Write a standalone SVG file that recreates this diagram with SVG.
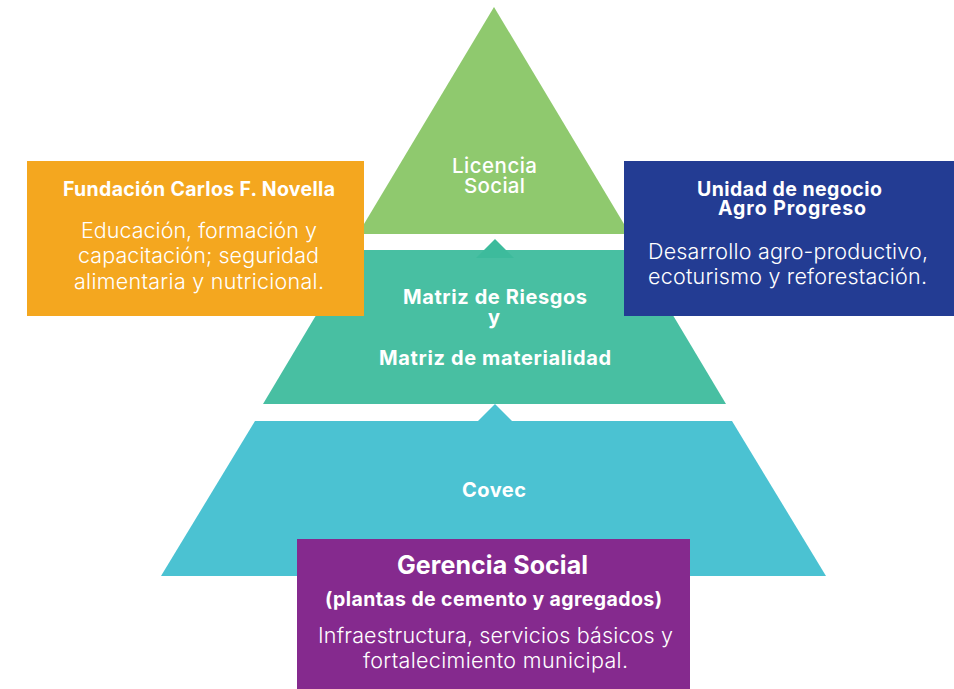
<svg xmlns="http://www.w3.org/2000/svg" width="954" height="689" viewBox="0 0 954 689">
<style>
text{font-family:Inter,"Open Sans","Liberation Sans",sans-serif;fill:#ffffff;text-anchor:middle}
.t{font-weight:700;font-size:19.5px}
.tier{font-weight:700;font-size:20px}
.lic{font-weight:500;font-size:20.5px}
.b{font-weight:300;font-size:21.5px}
.big{font-weight:700;font-size:25px}
</style>
<rect width="954" height="689" fill="#ffffff"/>
<g id="tier-top">
<polygon points="494,7 630,234 358,234" fill="#8FC96E"/>
<text class="lic" x="494.5" y="172.5" textLength="85">Licencia</text>
<text class="lic" x="494.5" y="193" textLength="61">Social</text>
</g>
<g id="tier-middle">
<polygon points="355,250 634,250 726,404 263,404" fill="#48BFA2"/>
<text class="tier" x="495" y="304" textLength="184">Matriz de Riesgos</text>
<text class="tier" x="494" y="323.5">y</text>
<text class="tier" x="495" y="365" textLength="232">Matriz de materialidad</text>
</g>
<g id="tier-bottom">
<polygon points="255,421 732,421 826,576 161,576" fill="#4BC2D2"/>
<text class="tier" x="494" y="497" textLength="64">Covec</text>
</g>
<g id="connectors">
<polygon points="495,239 514,258 476,258" fill="#3DBB9C"/>
<polygon points="495,404 512,421 478,421" fill="#4BC2D2"/>
</g>
<g id="fundacion">
<rect x="27" y="161" width="337" height="155" fill="#F4A71F"/>
<text class="t" x="199" y="196" textLength="272">Fundación Carlos F. Novella</text>
<text class="b" x="199" y="238" textLength="236">Educación, formación y</text>
<text class="b" x="198.5" y="263" textLength="241">capacitación; seguridad</text>
<text class="b" x="199" y="289" textLength="250">alimentaria y nutricional.</text>
</g>
<g id="agro-progreso">
<rect x="624" y="161" width="330" height="155" fill="#233C93"/>
<text class="t" x="789.5" y="196" textLength="185">Unidad de negocio</text>
<text class="t" x="792" y="215" textLength="148">Agro Progreso</text>
<text class="b" x="788" y="259" textLength="280">Desarrollo agro-productivo,</text>
<text class="b" x="787.5" y="284" textLength="279">ecoturismo y reforestación.</text>
</g>
<g id="gerencia-social">
<rect x="297" y="539" width="393" height="150" fill="#852A8E"/>
<text class="big" x="492.5" y="574" textLength="191">Gerencia Social</text>
<text class="t" x="493.5" y="606" font-size="20" textLength="337">(plantas de cemento y agregados)</text>
<text class="b" x="495.5" y="643" textLength="355">Infraestructura, servicios básicos y</text>
<text class="b" x="495.5" y="668" textLength="265">fortalecimiento municipal.</text>
</g>
</svg>
